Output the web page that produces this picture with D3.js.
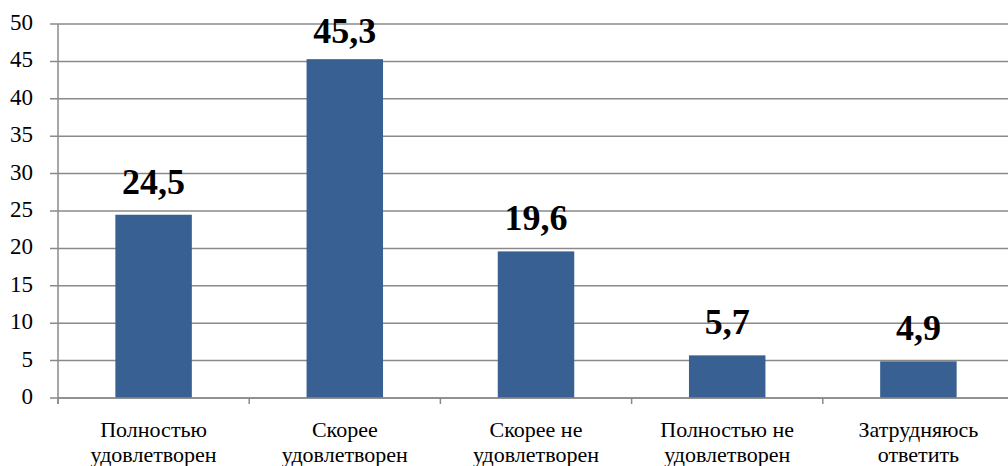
<!DOCTYPE html>
<head>
  <meta charset="utf-8">
  <script src="https://d3js.org/d3.v7.min.js"></script>
</head>
<body style="margin:0">
<script>

  let categories = [
    ["Полностью", "удовлетворен"],
    ["Скорее", "удовлетворен"],
    ["Скорее не", "удовлетворен"],
    ["Полностью не", "удовлетворен"],
    ["Затрудняюсь", "ответить"]
  ];
  let values = [24.5, 45.3, 19.6, 5.7, 4.9];
  let y_ticks = [0, 5, 10, 15, 20, 25, 30, 35, 40, 45, 50];

  let width = 1008;
  let height = 466;
  let plot = {left: 58, right: 1014, top: 24, bottom: 398};
  let serif_font = "'Liberation Serif'";

  let svg = d3.select("body").append("svg")
      .attr("width", width)
      .attr("height", height)
      .style("font-family", serif_font)
      .style("display", "block");

  let x = d3.scaleBand()
      .domain(d3.range(values.length))
      .range([plot.left, plot.right])
      .paddingInner(0.6)
      .paddingOuter(0.3);

  let y = d3.scaleLinear()
      .domain([0, 50])
      .range([plot.bottom, plot.top]);

  // gridlines
  svg.append("g")
    .selectAll("line")
    .data(y_ticks)
    .enter()
    .append("line")
    .attr("x1", plot.left - 8)
    .attr("x2", plot.right)
    .attr("y1", d => y(d))
    .attr("y2", d => y(d))
    .style("stroke", "#8a8a8a")
    .style("stroke-width", "1.5px");

  // y axis line
  svg.append("line")
    .attr("x1", plot.left).attr("x2", plot.left)
    .attr("y1", y(50)).attr("y2", y(0) + 6)
    .style("stroke", "#8a8a8a")
    .style("stroke-width", "1.5px");

  // y labels
  svg.append("g")
    .selectAll("text")
    .data(y_ticks)
    .enter()
    .append("text")
    .attr("x", plot.left - 25)
    .attr("y", d => y(d) + 6)
    .attr("text-anchor", "end")
    .style("font-family", serif_font)
    .style("font-size", "23px")
    .text(d => d);

  // category ticks on x axis
  svg.append("g")
    .selectAll("line")
    .data(d3.range(values.length + 1))
    .enter()
    .append("line")
    .attr("x1", i => plot.left + i * (plot.right - plot.left) / values.length)
    .attr("x2", i => plot.left + i * (plot.right - plot.left) / values.length)
    .attr("y1", y(0))
    .attr("y2", y(0) + 6)
    .style("stroke", "#8a8a8a")
    .style("stroke-width", "1.5px");

  // bars
  svg.append("g")
    .selectAll("rect")
    .data(values)
    .enter()
    .append("rect")
    .attr("x", (d, i) => x(i))
    .attr("y", d => y(d))
    .attr("width", x.bandwidth())
    .attr("height", d => y(0) - y(d))
    .style("fill", "#386092");

  // x axis line over bars
  svg.append("line")
    .attr("x1", plot.left).attr("x2", plot.right)
    .attr("y1", y(0)).attr("y2", y(0))
    .style("stroke", "#8a8a8a")
    .style("stroke-width", "1.5px");

  // value labels (pushed down when they'd run off the top)
  svg.append("g")
    .selectAll("text")
    .data(values)
    .enter()
    .append("text")
    .attr("x", (d, i) => x(i) + x.bandwidth() / 2)
    .attr("y", d => Math.max(y(d) - 21, 43))
    .attr("text-anchor", "middle")
    .style("font-family", serif_font)
    .style("font-size", "36px")
    .style("font-weight", "bold")
    .text(d => String(d).replace(".", ","));

  // category labels, two lines each
  svg.append("g")
    .selectAll("text")
    .data(categories)
    .enter()
    .append("text")
    .attr("text-anchor", "middle")
    .attr("x", (d, i) => x(i) + x.bandwidth() / 2)
    .attr("y", 437)
    .style("font-family", serif_font)
    .style("font-size", "22px")
    .text(d => d[0]);

  svg.append("g")
    .selectAll("text")
    .data(categories)
    .enter()
    .append("text")
    .attr("text-anchor", "middle")
    .attr("x", (d, i) => x(i) + x.bandwidth() / 2)
    .attr("y", 462)
    .style("font-family", serif_font)
    .style("font-size", "22px")
    .text(d => d[1]);

</script>
</body>
